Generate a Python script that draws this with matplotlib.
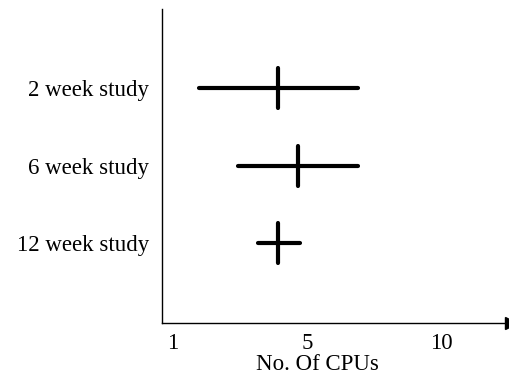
import matplotlib.pyplot as plt
import matplotlib.transforms as mtransforms

# data
studies = ['2 week study', '6 week study', '12 week study']
low = [1.78, 2.94, 3.54]
mid = [4.13, 4.73, 4.13]
high = [6.52, 6.52, 4.79]

# x ticks are evenly spaced in the original, so "10" sits at 9
tick_pos = [1, 5, 9]
tick_labels = ['1', '5', '10']

plt.rcParams['font.family'] = ['Liberation Serif', 'DejaVu Serif']

fig = plt.figure(figsize=(5.09, 3.8), dpi=100)
ax = fig.add_axes([0.318, 0.15, 0.682, 0.826])

ypos = [3, 2, 1]
ax.hlines(ypos, low, high, color='black', lw=3.0, capstyle='round')
ax.vlines(mid, [y - 0.26 for y in ypos], [y + 0.26 for y in ypos],
          color='black', lw=3.0, capstyle='round')

ax.set_xlim(0.67, 11.03)
ax.set_ylim(-0.03, 4.02)

ax.set_yticks(ypos)
ax.set_yticklabels(studies, fontsize=16.5)
ax.set_xticks(tick_pos)
ax.set_xticklabels(tick_labels, fontsize=16.5)
ax.tick_params(length=0)
ax.tick_params(axis='y', pad=9)
ax.tick_params(axis='x', pad=7)
ax.set_xlabel('No. Of CPUs', fontsize=16.5, labelpad=0, x=0.447)

for s in ['top', 'right']:
    ax.spines[s].set_visible(False)
for s in ['left', 'bottom']:
    ax.spines[s].set_linewidth(1.0)

# arrow head at the right end of the x axis, cut by the figure edge
arrow_tr = mtransforms.offset_copy(ax.transAxes, fig=fig, x=2, y=0, units='dots')
ax.plot([1.0], [0.0], marker='>', color='black', markersize=9,
        transform=arrow_tr, clip_on=False)

fig.savefig('out.png', dpi=100)
